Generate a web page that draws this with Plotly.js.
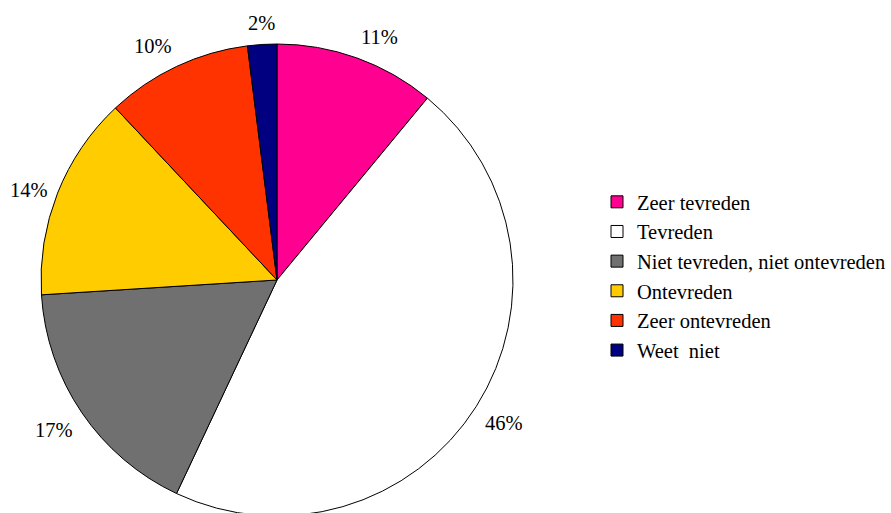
<!DOCTYPE html>
<html>
<head>
<meta charset="utf-8">
<script src="https://cdn.plot.ly/plotly-3.0.1.min.js"></script>
<style>
html,body{margin:0;padding:0;overflow:hidden;background:#fff;}
#chart{width:891px;height:520px;}
</style>
</head>
<body>
<div id="chart"></div>
<script>
const categories = ["Zeer tevreden", "Tevreden", "Niet tevreden, niet ontevreden", "Ontevreden", "Zeer ontevreden", "Weet  niet"];
const values = [11, 46, 17, 14, 10, 2];
const colors = ["#FF0090", "#FFFFFF", "#707070", "#FFCC00", "#FF3300", "#000080"];

const FONT = "Liberation Serif, Times New Roman, Times, serif";
const FS = 20.5;
const W = 891, H = 520;
const cx = 277, cy = 280, R = 236;

const trace = {
  type: "pie",
  labels: categories,
  values: values,
  sort: false,
  direction: "clockwise",
  rotation: 0,
  marker: {colors: colors, line: {color: "#000000", width: 1}},
  textinfo: "none",
  hoverinfo: "none",
  domain: {x: [(cx - R) / W, (cx + R) / W], y: [1 - (cy + R) / H, 1 - (cy - R) / H]}
};

// percentage labels placed just outside each slice, from the values
const total = values.reduce((a, b) => a + b, 0);
const annotations = [];
let cum = 0;
const gap = 9;
values.forEach((v) => {
  const mid = (cum + v / 2) / total * 2 * Math.PI;
  cum += v;
  const ux = Math.sin(mid), uy = -Math.cos(mid);
  const px = cx + (R + gap) * ux, py = cy + (R + gap) * uy;
  const xa = Math.abs(ux) < 0.2 ? "center" : (ux > 0 ? "left" : "right");
  const ya = Math.abs(uy) < 0.4 ? "middle" : (uy < 0 ? "bottom" : "top");
  annotations.push({
    xref: "paper", yref: "paper",
    x: px / W, y: 1 - py / H,
    xanchor: xa, yanchor: ya,
    text: v + "%", showarrow: false,
    borderpad: 0,
    font: {family: FONT, size: FS, color: "#000"}
  });
});

const layout = {
  width: W, height: H,
  margin: {l: 0, r: 0, t: 0, b: 0},
  paper_bgcolor: "#fff",
  showlegend: true,
  font: {family: FONT, size: FS, color: "#000"},
  annotations: annotations,
  legend: {
    x: (637 - 40) / W, xanchor: "left",
    y: 1 - 182 / H, yanchor: "top",
    itemwidth: 30,
    font: {family: FONT, size: FS, color: "#000"},
    bgcolor: "rgba(0,0,0,0)",
    tracegroupgap: 0
  }
};

Plotly.newPlot("chart", [trace], layout, {displayModeBar: false, staticPlot: true});
</script>
</body>
</html>
